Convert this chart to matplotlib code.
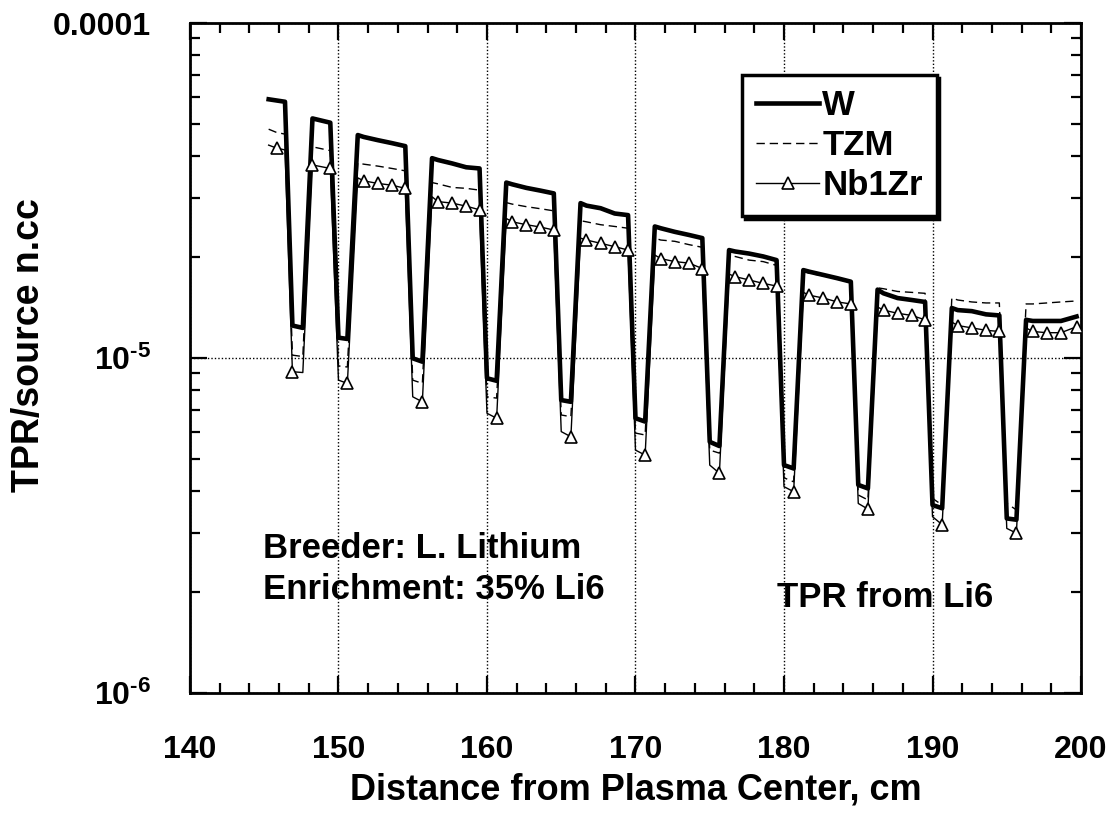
import matplotlib
matplotlib.use("Agg")
import matplotlib.pyplot as plt
from matplotlib.ticker import FixedLocator, LogLocator, NullFormatter

plt.rcParams["font.family"] = ["Liberation Sans", "DejaVu Sans"]
plt.rcParams["font.weight"] = "bold"
plt.rcParams["mathtext.fontset"] = "custom"
plt.rcParams["mathtext.rm"] = "Liberation Sans:bold"
plt.rcParams["mathtext.bf"] = "Liberation Sans:bold"
plt.rcParams["mathtext.it"] = "Liberation Sans:bold"

# distance from plasma center (cm)
distance = [
    145.3, 145.85, 146.4, 146.9, 147.6, 148.25, 149.45, 150.0, 150.6,
    151.3, 151.7, 152.65, 153.6, 154.5, 155.0, 155.65,
    156.3, 156.7, 157.65, 158.6, 159.5, 160.0, 160.65,
    161.3, 161.7, 162.65, 163.6, 164.5, 165.0, 165.65,
    166.3, 166.7, 167.65, 168.6, 169.5, 170.0, 170.65,
    171.3, 171.7, 172.65, 173.6, 174.5, 175.0, 175.65,
    176.3, 176.7, 177.65, 178.6, 179.5, 180.0, 180.65,
    181.3, 181.7, 182.65, 183.6, 184.5, 185.0, 185.65,
    186.3, 186.7, 187.65, 188.6, 189.5, 190.0, 190.65,
    191.3, 191.7, 192.65, 193.6, 194.5, 195.0, 195.65,
    196.3, 196.75, 197.7, 198.65, 199.7,
]

tpr_w = [
    5.92e-5, 5.87e-5, 5.82e-5, 1.25e-5, 1.23e-5, 5.19e-5, 5.04e-5, 1.15e-5, 1.14e-5,
    4.63e-5, 4.57e-5, 4.47e-5, 4.38e-5, 4.29e-5, 9.98e-6, 9.75e-6,
    3.95e-5, 3.90e-5, 3.81e-5, 3.71e-5, 3.68e-5, 8.70e-6, 8.55e-6,
    3.34e-5, 3.30e-5, 3.22e-5, 3.16e-5, 3.10e-5, 7.49e-6, 7.40e-6,
    2.90e-5, 2.85e-5, 2.80e-5, 2.70e-5, 2.67e-5, 6.61e-6, 6.46e-6,
    2.47e-5, 2.44e-5, 2.38e-5, 2.33e-5, 2.28e-5, 5.62e-6, 5.46e-6,
    2.10e-5, 2.08e-5, 2.05e-5, 2.01e-5, 1.96e-5, 4.79e-6, 4.68e-6,
    1.83e-5, 1.81e-5, 1.77e-5, 1.73e-5, 1.69e-5, 4.18e-6, 4.08e-6,
    1.60e-5, 1.56e-5, 1.51e-5, 1.49e-5, 1.47e-5, 3.64e-6, 3.56e-6,
    1.41e-5, 1.39e-5, 1.38e-5, 1.35e-5, 1.34e-5, 3.32e-6, 3.29e-6,
    1.30e-5, 1.29e-5, 1.29e-5, 1.29e-5, 1.33e-5,
]

tpr_tzm = [
    4.82e-5, 4.71e-5, 4.66e-5, 1.02e-5, 1.01e-5, 4.27e-5, 4.16e-5, 9.47e-6, 9.40e-6,
    3.82e-5, 3.79e-5, 3.74e-5, 3.68e-5, 3.62e-5, 8.59e-6, 8.40e-6,
    3.34e-5, 3.31e-5, 3.23e-5, 3.21e-5, 3.17e-5, 7.66e-6, 7.59e-6,
    2.91e-5, 2.88e-5, 2.83e-5, 2.79e-5, 2.75e-5, 6.76e-6, 6.68e-6,
    2.57e-5, 2.55e-5, 2.50e-5, 2.47e-5, 2.44e-5, 5.97e-6, 5.89e-6,
    2.28e-5, 2.25e-5, 2.23e-5, 2.18e-5, 2.14e-5, 5.31e-6, 5.20e-6,
    2.03e-5, 2.01e-5, 1.96e-5, 1.94e-5, 1.89e-5, 4.39e-6, 4.27e-6,
    1.82e-5, 1.79e-5, 1.76e-5, 1.72e-5, 1.68e-5, 3.90e-6, 3.77e-6,
    1.62e-5, 1.61e-5, 1.58e-5, 1.57e-5, 1.56e-5, 3.81e-6, 3.64e-6,
    1.51e-5, 1.49e-5, 1.47e-5, 1.46e-5, 1.46e-5, 3.68e-6, 3.52e-6,
    1.45e-5, 1.45e-5, 1.46e-5, 1.47e-5, 1.48e-5,
]

tpr_nb1zr = [
    4.32e-5, 4.23e-5, 4.18e-5, 9.10e-6, 9.05e-6, 3.77e-5, 3.68e-5, 8.59e-6, 8.40e-6,
    3.45e-5, 3.38e-5, 3.32e-5, 3.28e-5, 3.21e-5, 7.66e-6, 7.40e-6,
    3.03e-5, 2.93e-5, 2.90e-5, 2.84e-5, 2.77e-5, 6.84e-6, 6.61e-6,
    2.61e-5, 2.55e-5, 2.50e-5, 2.46e-5, 2.41e-5, 6.03e-6, 5.82e-6,
    2.28e-5, 2.25e-5, 2.20e-5, 2.15e-5, 2.10e-5, 5.31e-6, 5.13e-6,
    2.03e-5, 1.98e-5, 1.94e-5, 1.92e-5, 1.85e-5, 4.79e-6, 4.53e-6,
    1.78e-5, 1.75e-5, 1.71e-5, 1.67e-5, 1.64e-5, 4.13e-6, 3.99e-6,
    1.57e-5, 1.54e-5, 1.51e-5, 1.47e-5, 1.45e-5, 3.68e-6, 3.54e-6,
    1.42e-5, 1.39e-5, 1.36e-5, 1.34e-5, 1.30e-5, 3.36e-6, 3.18e-6,
    1.28e-5, 1.25e-5, 1.23e-5, 1.21e-5, 1.20e-5, 3.10e-6, 3.00e-6,
    1.23e-5, 1.20e-5, 1.19e-5, 1.19e-5, 1.24e-5,
]

# which Nb1Zr points carry a triangle
nb1zr_marks = [1, 3, 5, 6, 8]
for k in range(9):
    nb1zr_marks += [9 + 7 * k + i for i in (1, 2, 3, 4, 6)]
nb1zr_marks += [73, 74, 75, 76]

fig = plt.figure(figsize=(11.2, 8.25), dpi=100)
ax = fig.add_axes([0.1696, 0.16, 0.7956, 0.8121])

ax.plot(distance, tpr_w, color="black", lw=3.3, label="W", zorder=3)
ax.plot(distance, tpr_tzm, color="black", lw=1.0, ls=(0, (6, 3.5)), label="TZM", zorder=2)
ax.plot(distance, tpr_nb1zr, color="black", lw=1.0, marker="^", ms=9,
        mfc="white", mec="black", mew=1.2, markevery=nb1zr_marks,
        label="Nb1Zr", zorder=4)

ax.set_yscale("log")
ax.set_xlim(140, 200)
ax.set_ylim(1e-6, 1e-4)

ax.xaxis.set_major_locator(FixedLocator([140, 150, 160, 170, 180, 190, 200]))
ax.xaxis.set_minor_locator(FixedLocator([x for x in range(142, 200, 2) if x % 10 != 0]))
ax.yaxis.set_major_locator(FixedLocator([1e-6, 1e-5, 1e-4]))
ax.yaxis.set_minor_locator(LogLocator(base=10, subs=range(2, 10)))
ax.yaxis.set_minor_formatter(NullFormatter())
ax.set_yticklabels([r"$10^{\text{-6}}$", r"$10^{\text{-5}}$", "0.0001"])

ax.tick_params(which="both", direction="in", top=True, right=True, width=1.6, colors="black")
ax.tick_params(which="major", length=12)
ax.tick_params(which="minor", length=7)
ax.tick_params(axis="x", which="major", pad=30, labelsize=23)
ax.tick_params(axis="y", which="major", pad=28, labelsize=23)
for lab in ax.get_xticklabels() + ax.get_yticklabels():
    lab.set_fontweight("bold")

for sp in ax.spines.values():
    sp.set_linewidth(2)

ax.grid(True, which="major", color="black", ls=(0, (1, 1.5)), lw=1.0)

ax.set_xlabel("Distance from Plasma Center, cm", fontsize=26, fontweight="bold")
ax.xaxis.set_label_coords(0.5, -0.118)
ax.set_ylabel("TPR/source n.cc", fontsize=27, fontweight="bold")
ax.yaxis.set_label_coords(-0.16, 0.52)

ax.text(0.082, 0.215, "Breeder: L. Lithium", transform=ax.transAxes,
        fontsize=25, fontweight="bold", va="center")
ax.text(0.082, 0.154, "Enrichment: 35% Li6", transform=ax.transAxes,
        fontsize=25, fontweight="bold", va="center")
ax.text(0.659, 0.143, "TPR from Li6", transform=ax.transAxes,
        fontsize=25, fontweight="bold", va="center")

leg = ax.legend(loc="upper left", bbox_to_anchor=(0.62, 0.922), fontsize=25,
                frameon=True, fancybox=False, shadow={"color": "black", "alpha": 1},
                handlelength=1.8, handletextpad=0.1, labelspacing=0.2,
                borderpad=0.4, borderaxespad=0)
leg.get_frame().set_edgecolor("black")
leg.get_frame().set_linewidth(2.5)
leg.set_zorder(10)

fig.savefig("out.png", dpi=100)
